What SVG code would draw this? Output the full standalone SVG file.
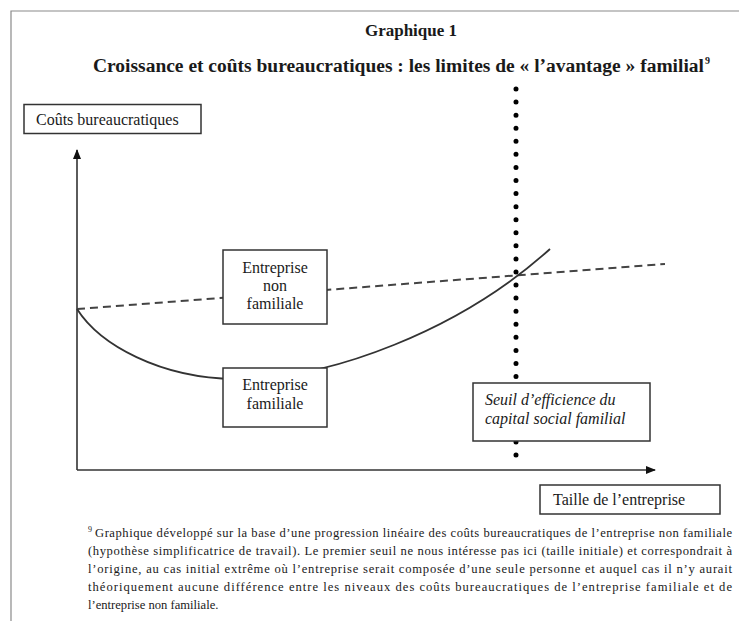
<svg xmlns="http://www.w3.org/2000/svg" width="739" height="621" viewBox="0 0 739 621">
<style>
text{font-family:"Liberation Serif","Times New Roman",serif;fill:#1a1a1a}
.title{font-weight:bold;font-size:17px}
.lbl{font-size:16px}
.box{fill:#fff;stroke:#333;stroke-width:1.5}
.axis{stroke:#333;stroke-width:1.6;fill:none}
.note{font-size:12.6px}
</style>
<defs>
<marker id="arr" markerWidth="10" markerHeight="8" refX="9" refY="4" orient="auto" markerUnits="userSpaceOnUse">
<path d="M0,0 L10,4 L0,8 Z" fill="#111"/>
</marker>
</defs>
<rect width="739" height="621" fill="#fff"/>
<path d="M11,621 V11 H739" fill="none" stroke="#8a8a8a" stroke-width="1.2"/>
<text class="title" x="411" y="36" text-anchor="middle">Graphique 1</text>
<text class="title" x="93" y="72" style="font-size:18px" textLength="611" lengthAdjust="spacingAndGlyphs">Croissance et coûts bureaucratiques : les limites de « l’avantage » familial</text>
<text class="title" x="705" y="64" style="font-size:10px">9</text>

<g id="connectors">
<line class="axis" x1="77" y1="470" x2="77" y2="150" marker-end="url(#arr)"/>
<line class="axis" x1="77" y1="470" x2="655" y2="470" marker-end="url(#arr)"/>
<line x1="516" y1="89" x2="516" y2="468" stroke="#000" stroke-width="5" stroke-linecap="round" stroke-dasharray="0 13.07"/>
<line x1="77" y1="309" x2="665" y2="264" stroke="#444" stroke-width="2" stroke-dasharray="8 5"/>
<path d="M77,309 C100,345 160,378 235,379 C330,380 460,330 550,249" fill="none" stroke="#333" stroke-width="1.8"/>
</g>

<g id="y-label">
<rect class="box" x="24" y="104.5" width="177" height="29"/>
<text class="lbl" x="36" y="125">Coûts bureaucratiques</text>
</g>
<g id="non-familiale">
<rect class="box" x="223" y="250" width="104" height="74"/>
<text class="lbl" x="275" y="273" text-anchor="middle">Entreprise</text>
<text class="lbl" x="275" y="291" text-anchor="middle">non</text>
<text class="lbl" x="275" y="309" text-anchor="middle">familiale</text>
</g>
<g id="familiale">
<rect class="box" x="223" y="368" width="104" height="59"/>
<text class="lbl" x="275" y="390" text-anchor="middle">Entreprise</text>
<text class="lbl" x="275" y="409" text-anchor="middle">familiale</text>
</g>
<g id="seuil">
<rect class="box" x="473" y="383" width="177" height="58"/>
<text class="lbl" x="485" y="405" font-style="italic">Seuil d’efficience du</text>
<text class="lbl" x="485" y="424" font-style="italic">capital social familial</text>
</g>
<g id="x-label">
<rect class="box" x="540" y="485" width="180" height="29"/>
<text class="lbl" x="553" y="505">Taille de l’entreprise</text>
</g>

<g id="footnote">
<text class="note" x="88" y="532" style="font-size:8px">9</text>
<text class="note" x="95" y="537" textLength="637" lengthAdjust="spacing">Graphique développé sur la base d’une progression linéaire des coûts bureaucratiques de l’entreprise non familiale</text>
<text class="note" x="88" y="555" textLength="644" lengthAdjust="spacing">(hypothèse simplificatrice de travail). Le premier seuil ne nous intéresse pas ici (taille initiale) et correspondrait à</text>
<text class="note" x="88" y="573" textLength="644" lengthAdjust="spacing">l’origine, au cas initial extrême où l’entreprise serait composée d’une seule personne et auquel cas il n’y aurait</text>
<text class="note" x="88" y="591" textLength="644" lengthAdjust="spacing">théoriquement aucune différence entre les niveaux des coûts bureaucratiques de l’entreprise familiale et de</text>
<text class="note" x="88" y="609">l’entreprise non familiale.</text>
</g>
</svg>
